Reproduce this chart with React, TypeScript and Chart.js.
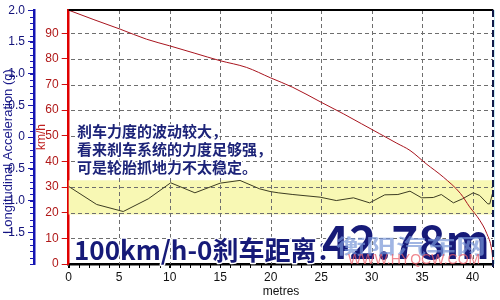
import React, { useEffect, useRef } from 'react';
import { Chart, registerables } from 'chart.js';

Chart.register(...registerables);

// ---- data ----
const speedDist = [0, 2.5, 5.1, 7.7, 10, 12.5, 15, 17.6, 20, 22.2, 25, 27.2, 29, 30.8, 32.5, 33.8, 35.4, 37.1, 38.8, 39.7, 40.7, 41.4, 41.9, 42.05];
const speedKmh = [99, 95.3, 91.6, 87.7, 85.1, 82.2, 79.3, 76.7, 72.6, 68.9, 63.1, 58.6, 54.7, 50.8, 47.1, 44.3, 39.1, 33.9, 27.5, 22.3, 17.1, 11.9, 5.4, 0];

const accDist = [0, 2.77, 5.4, 7.88, 10.1, 12.5, 15.0, 16.96, 18.9, 19.93, 20.75, 22.2, 24.9, 26.5, 28.2, 29.8, 31.3, 32.6, 33.8, 34.95, 36.1, 36.9, 38.1, 39.0, 40.06, 40.7, 41.5, 41.7, 42.05];
const accG = [-0.778, -1.062, -1.173, -0.973, -0.72, -0.878, -0.726, -0.683, -0.815, -0.857, -0.878, -0.905, -0.947, -1.0, -0.957, -1.036, -0.91, -0.905, -0.852, -0.957, -0.952, -0.905, -1.036, -0.973, -0.878, -0.92, -1.052, -1.052, -0.84];

const bandG = [-0.68, -1.22];

const xRange = [0, 42.05];
const speedRange = [0, 99];
const accRange = [-2, 2];

const xTickLabels = [0, 5, 10, 15, 20, 25, 30, 35, 40];
const speedTickLabels = [0, 10, 20, 30, 40, 50, 60, 70, 80, 90];
const accTickLabels = [2, 1.5, 1, 0.5, 0, -0.5, -1, -1.5];

const xTitle = 'metres';
const speedTitle = 'km/h';
const accTitle = 'Longitudinal Acceleration (g)';

const noteLines = ['刹车力度的波动较大，', '看来刹车系统的力度足够强，', '可是轮胎抓地力不太稳定。'];
const headline = '100km/h-0刹车距离：';
const distanceText = '42.78m';
const watermark = '衡阳汽车网';
const watermarkUrl = 'WWW.HYQCW.COM';

// minor tick positions (axis decoration)
const xMinorTicks = Array.from({ length: 43 }, (_, i) => i);
const accMinorTicks = Array.from({ length: 41 }, (_, i) => Math.round((-2 + i * 0.1) * 10) / 10);

const FONT = '"Liberation Sans", Arial, sans-serif';
const CJK = '"Noto Sans CJK SC", "Noto Sans", sans-serif';
const GRID = '#6e6e6e';

function dashH(ctx: any, x1: number, x2: number, y: number) {
  for (let x = x1; x < x2; x += 7) ctx.fillRect(x, y, Math.min(4, x2 - x), 1);
}
function dashV(ctx: any, x: number, y1: number, y2: number) {
  for (let y = y1; y < y2; y += 7) ctx.fillRect(x, y, 1, Math.min(4, y2 - y));
}

const overlay = {
  id: 'overlay',
  beforeDatasetsDraw(chart: any) {
    const { ctx, chartArea, scales } = chart;
    const acc = scales.acc;
    const y1 = acc.getPixelForValue(bandG[0]);
    const y2 = acc.getPixelForValue(bandG[1]);
    ctx.save();
    ctx.fillStyle = '#f8f8b4';
    ctx.fillRect(chartArea.left, y1, chartArea.right - chartArea.left, y2 - y1);
    ctx.fillStyle = GRID;
    xTickLabels.forEach((v) => {
      if (v === 0) return;
      const px = Math.round(scales.x.getPixelForValue(v));
      dashV(ctx, px, Math.round(chartArea.top), Math.round(chartArea.bottom));
    });
    speedTickLabels.forEach((v) => {
      if (v === 0) return;
      const py = Math.round(scales.speed.getPixelForValue(v));
      dashH(ctx, Math.round(chartArea.left) + 2, Math.round(chartArea.right), py);
    });
    ctx.restore();
  },
  afterDraw(chart: any) {
    const { ctx, chartArea, scales } = chart;
    ctx.save();
    // minor ticks
    const xs = scales.x;
    ctx.fillStyle = '#000';
    xMinorTicks.forEach((v) => {
      const px = Math.round(xs.getPixelForValue(v));
      ctx.fillRect(px, Math.round(chartArea.bottom), 1, 4);
    });
    const acc = scales.acc;
    ctx.fillStyle = '#1a1ab0';
    accMinorTicks.forEach((v) => {
      const py = Math.round(acc.getPixelForValue(v));
      ctx.fillRect(Math.round(acc.right) - 4, py, 4, 1);
    });
    // top border
    ctx.fillStyle = '#000';
    ctx.fillRect(chartArea.left, Math.round(chartArea.top) - 1, chartArea.right - chartArea.left, 2);
    // right border
    ctx.fillStyle = '#c4e8f0';
    ctx.fillRect(Math.round(chartArea.right) + 1, chartArea.top, 1, chartArea.bottom - chartArea.top);
    ctx.fillStyle = '#101848';
    for (let y = Math.round(chartArea.top); y < chartArea.bottom; y += 10) {
      ctx.fillRect(Math.round(chartArea.right) - 1, y, 2, 7);
    }

    // annotation text
    ctx.lineJoin = 'round';
    ctx.textBaseline = 'middle';
    ctx.textAlign = 'left';
    ctx.font = `bold 15px ${CJK}`;
    noteLines.forEach((t, i) => {
      const y = 131.5 + i * 18;
      ctx.strokeStyle = '#ffffff';
      ctx.lineWidth = 3;
      ctx.strokeText(t, 77, y);
      ctx.fillStyle = '#1c2378';
      ctx.fillText(t, 77, y);
    });

    ctx.textBaseline = 'alphabetic';
    ctx.font = `bold 26px ${CJK}`;
    ctx.strokeStyle = '#ffffff';
    ctx.lineWidth = 3;
    ctx.strokeText(headline, 74, 260);
    ctx.fillStyle = '#161a78';
    ctx.fillText(headline, 74, 260);

    ctx.font = `bold 46px ${CJK}`;
    ctx.strokeText(distanceText, 322, 259);
    ctx.fillText(distanceText, 322, 259);

    // watermark
    ctx.save();
    ctx.translate(336, 254);
    ctx.scale(1.25, 0.85);
    ctx.font = `bold 24px ${CJK}`;
    ctx.fillStyle = 'rgba(120,150,215,0.7)';
    ctx.fillText(watermark, 0, 0);
    ctx.restore();
    ctx.font = `14px ${FONT}`;
    ctx.fillStyle = 'rgba(235,95,105,0.75)';
    ctx.textBaseline = 'middle';
    ctx.fillText(watermarkUrl, 348, 260);
    ctx.restore();
  },
};

export default function App() {
  const ref = useRef<HTMLCanvasElement | null>(null);

  useEffect(() => {
    if (!ref.current) return;
    const chart = new Chart(ref.current, {
      type: 'line',
      data: {
        datasets: [
          {
            label: 'speed',
            data: speedDist.map((x, i) => ({ x, y: speedKmh[i] })),
            yAxisID: 'speed',
            borderColor: '#a8141e',
            borderWidth: 1,
            pointRadius: 0,
            cubicInterpolationMode: 'monotone',
            fill: false,
            order: 1,
          },
          {
            label: 'acc',
            data: accDist.map((x, i) => ({ x, y: accG[i] })),
            yAxisID: 'acc',
            borderColor: '#3c3c22',
            borderWidth: 1,
            pointRadius: 0,
            tension: 0,
            fill: false,
            order: 2,
          },
        ],
      },
      options: {
        animation: false,
        responsive: false,
        events: [],
        layout: { padding: { left: 0, right: 6.7, top: 9.3, bottom: 0 } },
        plugins: { legend: { display: false }, tooltip: { enabled: false } },
        scales: {
          x: {
            type: 'linear',
            position: 'bottom',
            min: xRange[0],
            max: xRange[1],
            afterBuildTicks: (s: any) => {
              s.ticks = xTickLabels.map((v) => ({ value: v }));
            },
            afterFit: (s: any) => {
              s.height = 36;
            },
            ticks: {
              autoSkip: false,
              maxRotation: 0,
              padding: 2,
              color: '#111',
              font: { size: 12, family: FONT },
            },
            grid: {
              drawOnChartArea: false,
              tickColor: '#000',
              tickLength: 4,
              lineWidth: 1,
            },
            border: { color: '#000', width: 2.5 },
            title: {
              display: true,
              text: xTitle,
              color: '#111',
              font: { size: 12, family: FONT },
              padding: { top: 0, bottom: 1 },
            },
          },
          speed: {
            type: 'linear',
            position: 'left',
            weight: 0,
            min: speedRange[0],
            max: speedRange[1],
            afterBuildTicks: (s: any) => {
              s.ticks = speedTickLabels.map((v) => ({ value: v }));
            },
            afterFit: (s: any) => {
              s.width = 34.7;
            },
            ticks: {
              autoSkip: false,
              padding: 3,
              color: '#b01818',
              font: { size: 12, family: FONT },
            },
            grid: {
              drawOnChartArea: false,
              tickColor: '#d01010',
              tickLength: 7,
              lineWidth: 1,
            },
            border: { color: '#e00000', width: 2.5 },
            title: {
              display: true,
              text: speedTitle,
              color: '#c02020',
              font: { size: 12, family: FONT },
              padding: { top: 0, bottom: 0 },
            },
          },
          acc: {
            type: 'linear',
            position: 'left',
            weight: 1,
            min: accRange[0],
            max: accRange[1],
            afterBuildTicks: (s: any) => {
              s.ticks = accTickLabels.map((v) => ({ value: v }));
            },
            afterFit: (s: any) => {
              s.width = 34;
            },
            ticks: {
              autoSkip: false,
              padding: 3,
              color: '#12127a',
              font: { size: 12, family: FONT },
            },
            grid: {
              drawOnChartArea: false,
              tickColor: '#1a1ab0',
              tickLength: 6,
              lineWidth: 1,
            },
            border: { color: '#1414b4', width: 2.5 },
            title: {
              display: true,
              text: accTitle + '        ',
              color: '#1a1a8a',
              font: { size: 13, family: FONT },
              padding: { top: 1, bottom: 0 },
            },
          },
        },
      },
      plugins: [overlay],
    } as any);
    return () => chart.destroy();
  }, []);

  return (
    <div style={{ position: 'absolute', left: 0, top: 0, width: 500, height: 300, background: '#fff' }}>
      <canvas ref={ref} width={500} height={300} />
    </div>
  );
}
